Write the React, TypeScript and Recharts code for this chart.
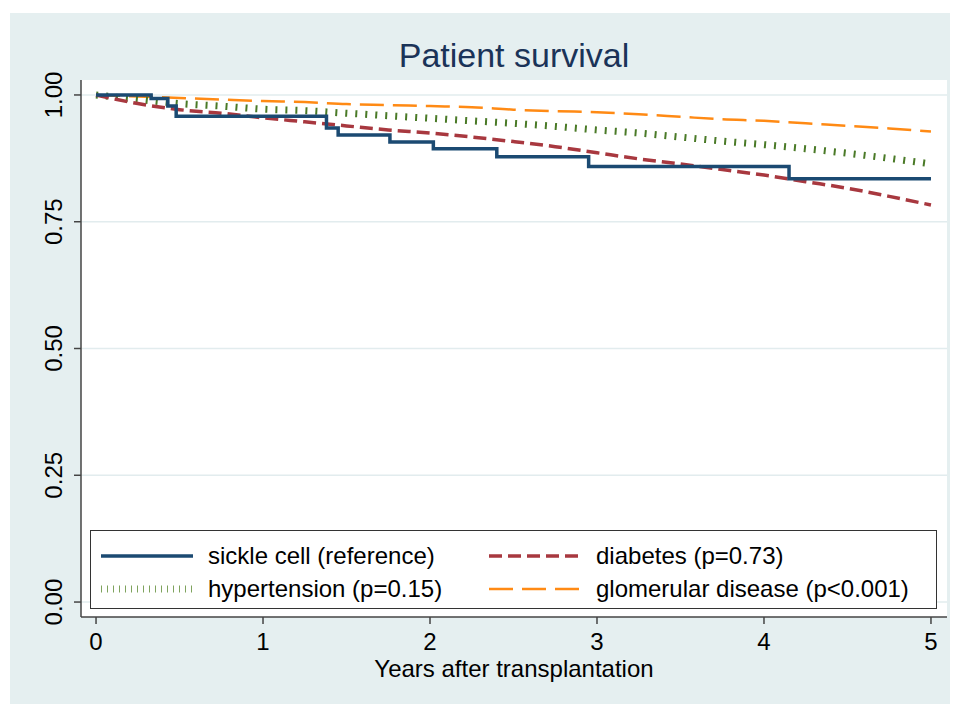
import { LineChart, Line, XAxis, YAxis, CartesianGrid } from 'recharts'

// Kaplan-Meier patient survival
const years = [0, 0.25, 0.5, 0.75, 1, 1.25, 1.5, 1.75, 2, 2.25, 2.5, 2.75, 3, 3.25, 3.5, 3.75, 4, 4.25, 4.5, 4.75, 5]
const diabetes = [1, 0.983, 0.971, 0.964, 0.955, 0.947, 0.939, 0.931, 0.925, 0.917, 0.908, 0.898, 0.886, 0.874, 0.864, 0.853, 0.842, 0.829, 0.816, 0.8, 0.783]
const hypertension = [1, 0.991, 0.983, 0.978, 0.972, 0.969, 0.964, 0.959, 0.954, 0.949, 0.944, 0.938, 0.931, 0.925, 0.917, 0.909, 0.902, 0.894, 0.885, 0.875, 0.864]
const glomerular = [1, 0.997, 0.994, 0.991, 0.988, 0.986, 0.982, 0.98, 0.978, 0.976, 0.971, 0.968, 0.966, 0.962, 0.957, 0.952, 0.949, 0.944, 0.939, 0.934, 0.928]

const sickleYears = [0, 0.33, 0.43, 0.48, 1.38, 1.45, 1.76, 2.02, 2.4, 2.95, 4.15, 5]
const sickle = [1, 0.993, 0.978, 0.958, 0.935, 0.921, 0.907, 0.894, 0.878, 0.859, 0.835, 0.835]

const xTicks = [0, 1, 2, 3, 4, 5]
const yTicks = [0, 0.25, 0.5, 0.75, 1]

const FONT = '"Liberation Sans", Arial, Helvetica, sans-serif'
const FS = 24

const C = {
  sickle: '#1b4a72',
  diabetes: '#a8383f',
  hyper: '#4a7a27',
  glom: '#ff8a14',
}

const smooth = (vals: number[]) => years.map((t, i) => ({ t, v: vals[i] }))
const sickleData = sickleYears.map((t, i) => ({ t, v: sickle[i] }))

const legendItems = [
  { key: 'sickle', name: 'sickle cell (reference)' },
  { key: 'diabetes', name: 'diabetes (p=0.73)' },
  { key: 'hyper', name: 'hypertension (p=0.15)' },
  { key: 'glom', name: 'glomerular disease (p<0.001)' },
]

function YTick({ x, y, payload }: any) {
  return (
    <text
      transform={`translate(${x - 8},${y}) rotate(-90)`}
      textAnchor="middle"
      fontSize={FS}
      fontFamily={FONT}
      fill="#000"
    >
      {payload.value.toFixed(2)}
    </text>
  )
}

function Sample({ k }: { k: string }) {
  let line
  if (k === 'sickle') line = <line x1={0} y1={6} x2={92} y2={6} stroke={C.sickle} strokeWidth={3.5} />
  else if (k === 'diabetes') line = <line x1={0} y1={6} x2={92} y2={6} stroke={C.diabetes} strokeWidth={3.5} strokeDasharray="13 6" />
  else if (k === 'hyper') line = <line x1={0} y1={6} x2={92} y2={6} stroke="#7fa35e" strokeWidth={7} strokeDasharray="1 5" />
  else line = <line x1={0} y1={6} x2={92} y2={6} stroke={C.glom} strokeWidth={2.5} strokeDasharray="24 9" />
  return <svg width={92} height={12}>{line}</svg>
}

function LegendBox() {
  return (
    <div
      style={{
        position: 'absolute',
        left: 90,
        top: 530,
        boxSizing: 'border-box',
        width: 847,
        height: 79,
        border: '1.5px solid #333',
        background: '#fff',
        display: 'grid',
        gridTemplateColumns: '388px 1fr',
        gridTemplateRows: '33px 33px',
        padding: '8px 0 0 10px',
        fontFamily: FONT,
        fontSize: FS,
        color: '#000',
      }}
    >
      {legendItems.map(s => (
        <div key={s.key} style={{ display: 'flex', alignItems: 'center', gap: 15, whiteSpace: 'nowrap' }}>
          <Sample k={s.key} />
          <span>{s.name}</span>
        </div>
      ))}
    </div>
  )
}

export default function App() {
  return (
    <div style={{ position: 'absolute', left: 0, top: 0, width: 960, height: 704, background: '#fff' }}>
      <div style={{ position: 'absolute', left: 10, top: 13, width: 940, height: 691, background: '#e5eff0' }} />
      <div
        style={{
          position: 'absolute',
          left: 81,
          width: 866,
          top: 33,
          textAlign: 'center',
          fontFamily: FONT,
          fontSize: 34,
          color: '#1a3358',
          lineHeight: '44px',
        }}
      >
        Patient survival
      </div>
      <div style={{ position: 'absolute', left: 0, top: 0 }}>
        <LineChart width={960} height={704} margin={{ top: 80, right: 13, bottom: 27, left: 21 }}>
          <CartesianGrid vertical={false} fill="#fff" stroke="#e2ecee" strokeWidth={1.5} horizontalValues={yTicks} />
          <XAxis
            type="number"
            dataKey="t"
            domain={[-0.09, 5.096]}
            allowDataOverflow
            ticks={xTicks}
            height={60}
            tickSize={7}
            tickMargin={9}
            stroke="#444"
            strokeWidth={1.5}
            tick={{ fontSize: FS, fill: '#000', fontFamily: FONT }}
            label={{ value: 'Years after transplantation', position: 'insideBottom', offset: 0, fontSize: FS, fill: '#000', fontFamily: FONT }}
          />
          <YAxis
            type="number"
            domain={[-0.0295, 1.0295]}
            allowDataOverflow
            ticks={yTicks}
            width={60}
            tickSize={7}
            tickMargin={4}
            stroke="#444"
            strokeWidth={1.5}
            tick={<YTick />}
          />
          <Line data={smooth(glomerular)} dataKey="v" type="monotone" stroke={C.glom} strokeWidth={2.5} strokeDasharray="24 9" dot={false} isAnimationActive={false} />
          <Line data={smooth(hypertension)} dataKey="v" type="monotone" stroke={C.hyper} strokeWidth={7} strokeDasharray="2 8" strokeLinecap="butt" dot={false} isAnimationActive={false} />
          <Line data={smooth(diabetes)} dataKey="v" type="monotone" stroke={C.diabetes} strokeWidth={3.5} strokeDasharray="13 6" dot={false} isAnimationActive={false} />
          <Line data={sickleData} dataKey="v" type="stepAfter" stroke={C.sickle} strokeWidth={3.5} dot={false} isAnimationActive={false} />
        </LineChart>
      </div>
      <LegendBox />
    </div>
  )
}
